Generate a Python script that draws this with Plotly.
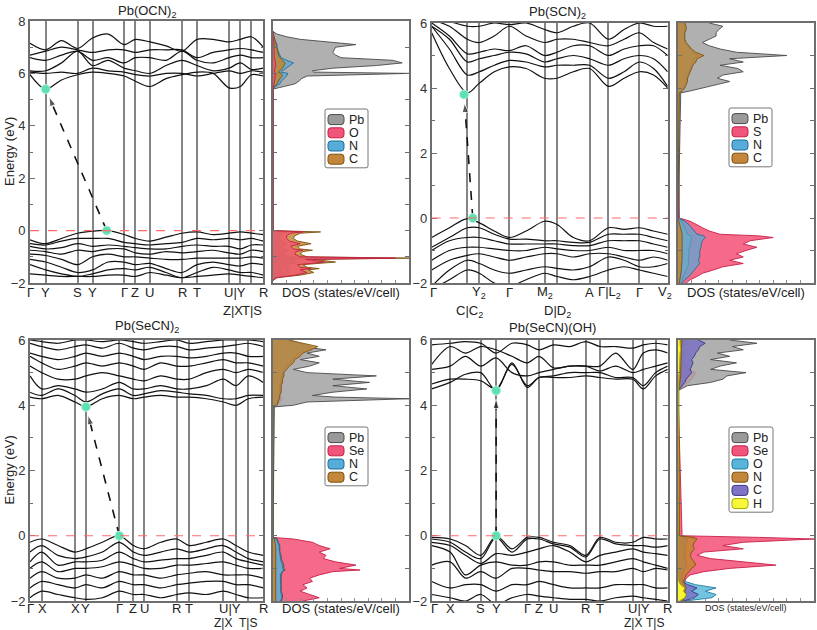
import math
import plotly.graph_objects as go

FONT = "Liberation Sans, Arial, sans-serif"
W, H = 817, 630

# ======================= Panel 1: Pb(OCN)2 =======================
p1_title = "Pb(OCN)<sub>2</sub>"
p1_k = [0, 0.067, 0.135, 0.204, 0.268, 0.335, 0.403, 0.452, 0.514, 0.583, 0.652, 0.716, 0.785, 0.853, 0.902, 0.949, 1.0]
p1_klines = [0.067, 0.204, 0.268, 0.403, 0.452, 0.514, 0.652, 0.716, 0.853, 0.902, 0.949]
p1_labels = ["Γ", "Y", "S", "Y", "Γ", "Z", "U", "R", "T", "U|Y", "R"]
p1_label_k = [0, 0.067, 0.204, 0.268, 0.403, 0.452, 0.514, 0.652, 0.716, 0.879, 1.0]
p1_labels2 = ["Z|X", "T|S"]
p1_label2_k = [0.870, 0.951]
p1_cbands = [
    [5.95, 5.4, 5.75, 5.95, 6.05, 6.0, 5.9, 5.7, 5.5, 5.8, 5.95, 6.05, 6.0, 5.45, 5.5, 5.95, 5.9],
    [6.05, 6.0, 6.05, 6.0, 6.2, 6.1, 6.05, 5.95, 5.9, 6.0, 6.0, 5.9, 6.0, 6.1, 6.0, 6.1, 6.05],
    [6.1, 6.1, 6.4, 6.85, 6.3, 6.5, 6.2, 6.1, 6.0, 6.3, 6.5, 6.3, 6.1, 6.2, 6.4, 6.15, 6.2],
    [6.6, 6.5, 6.7, 6.85, 6.5, 6.6, 6.4, 6.6, 6.6, 6.5, 6.85, 6.5, 6.4, 6.6, 6.7, 6.6, 6.6],
    [6.7, 6.85, 7.0, 6.9, 6.8, 6.9, 6.9, 6.8, 6.9, 6.9, 6.9, 6.6, 6.8, 6.9, 6.95, 6.9, 6.8],
    [7.15, 6.9, 7.25, 6.95, 7.35, 7.5, 7.1, 7.3, 7.2, 7.05, 6.85, 7.3, 7.3, 7.2, 7.3, 7.4, 7.0],
]
p1_vbands = [
    [-0.35, -0.5, -0.3, -0.1, -0.02, 0.0, -0.15, -0.3, -0.4, -0.25, -0.1, -0.05, -0.15, -0.1, -0.05, -0.1, -0.15],
    [-0.5, -0.55, -0.4, -0.3, -0.3, -0.3, -0.45, -0.5, -0.55, -0.5, -0.45, -0.3, -0.35, -0.3, -0.35, -0.3, -0.4],
    [-0.6, -0.7, -0.65, -0.5, -0.6, -0.55, -0.6, -0.65, -0.7, -0.7, -0.6, -0.55, -0.6, -0.6, -0.7, -0.55, -0.55],
    [-0.75, -0.8, -0.9, -0.75, -0.8, -0.7, -0.7, -0.85, -0.9, -0.8, -0.85, -0.8, -0.75, -0.85, -0.9, -0.75, -0.8],
    [-0.9, -0.95, -1.1, -1.3, -1.0, -0.9, -1.0, -1.0, -1.05, -1.1, -1.1, -1.05, -1.05, -1.05, -1.05, -1.0, -1.05],
    [-1.1, -1.2, -1.4, -1.6, -1.5, -1.2, -1.2, -1.3, -1.25, -1.45, -1.6, -1.3, -1.2, -1.3, -1.35, -1.25, -1.3],
    [-1.3, -1.5, -1.65, -1.75, -1.65, -1.5, -1.45, -1.5, -1.4, -1.6, -1.8, -1.6, -1.4, -1.5, -1.6, -1.6, -1.7],
    [-1.65, -1.7, -1.75, -1.75, -1.75, -1.7, -1.7, -1.75, -1.6, -1.7, -1.8, -1.75, -1.7, -1.65, -1.7, -1.75, -1.8],
]
p1_vbm = [0.329, 0.0]
p1_cbm = [0.067, 5.4]
p1_e_vb = [-1.9, -1.8, -1.7, -1.6, -1.5, -1.45, -1.4, -1.3, -1.2, -1.1, -1.05, -1.0, -0.9, -0.8, -0.75, -0.7, -0.6, -0.5, -0.4, -0.3, -0.2, -0.1, -0.05, 0.0]
p1_e_cb = [5.4, 5.5, 5.6, 5.7, 5.8, 5.9, 6.0, 6.05, 6.1, 6.2, 6.3, 6.4, 6.5, 6.6, 6.7, 6.8, 6.9, 7.0, 7.1, 7.2, 7.3, 7.4, 7.5, 7.6]
p1_pb_vb = [0, 0.1, 0.4, 0.6, 0.5, 0.6, 0.5, 0.4, 0.8, 0.6, 1.5, 0.5, 0.4, 0.4, 0.5, 0.4, 0.3, 0.5, 0.3, 0.3, 0.3, 0.4, 0.6, 0]
p1_pb_cb = [0, 0.8, 1.6, 1.9, 2.1, 2.5, 10.0, 3.0, 2.9, 4.4, 7.6, 9.5, 8.8, 5.0, 4.6, 4.4, 4.5, 4.6, 6.1, 4.2, 2.0, 1.0, 0.3, 0]
p1_o_vb = [0, 0.2, 1.6, 2.5, 2.0, 2.8, 2.0, 1.8, 3.8, 2.4, 9.0, 2.0, 1.6, 1.7, 2.2, 1.5, 1.3, 2.0, 1.2, 1.0, 1.0, 1.3, 2.2, 0]
p1_o_cb = [0, 0.05, 0.1, 0.1, 0.15, 0.15, 0.2, 0.1, 0.1, 0.15, 0.2, 0.2, 0.15, 0.1, 0.1, 0.1, 0.1, 0.1, 0.1, 0.05, 0.05, 0, 0, 0]
p1_n_vb = [0, 0.1, 0.8, 1.2, 1.0, 1.3, 1.0, 0.9, 1.8, 1.2, 4.0, 1.0, 0.8, 0.9, 1.1, 0.8, 0.7, 1.0, 0.6, 0.5, 0.5, 0.7, 1.0, 0]
p1_n_cb = [0, 0.2, 0.5, 0.6, 0.8, 1.0, 1.1, 0.6, 0.7, 1.0, 1.2, 1.5, 1.0, 0.6, 0.5, 0.4, 0.35, 0.3, 0.3, 0.2, 0.1, 0.05, 0, 0]
p1_c_vb = [0, 0.3, 2.0, 3.0, 2.6, 3.4, 2.5, 2.2, 4.6, 3.0, 10.0, 2.5, 2.0, 2.2, 2.9, 2.0, 1.8, 2.8, 1.8, 1.5, 1.6, 2.0, 3.5, 0]
p1_c_cb = [0, 0.1, 0.3, 0.4, 0.5, 0.7, 0.6, 0.4, 0.5, 0.7, 0.8, 0.9, 0.7, 0.5, 0.4, 0.35, 0.3, 0.3, 0.25, 0.2, 0.15, 0.1, 0.05, 0]

# ======================= Panel 2: Pb(SCN)2 =======================
p2_title = "Pb(SCN)<sub>2</sub>"
p2_k = [0, 0.075, 0.151, 0.202, 0.265, 0.329, 0.40, 0.478, 0.531, 0.60, 0.669, 0.749, 0.815, 0.880, 0.94, 1.0]
p2_klines = [0.151, 0.202, 0.329, 0.478, 0.531, 0.669, 0.749, 0.880]
p2_labels = ["Γ", "Y<sub>2</sub>", "Γ", "M<sub>2</sub>", "A", "Γ|L<sub>2</sub>", "Γ", "V<sub>2</sub>"]
p2_label_k = [0.007, 0.202, 0.329, 0.478, 0.669, 0.755, 0.880, 0.99]
p2_labels2 = ["C|C<sub>2</sub>", "D|D<sub>2</sub>"]
p2_label2_k = [0.16, 0.531]
p2_cbands = [
    [5.7, 4.6, 3.85, 4.15, 4.5, 4.65, 4.6, 4.3, 4.3, 4.5, 4.6, 4.05, 4.3, 4.5, 4.4, 4.0],
    [5.9, 5.2, 4.4, 4.5, 4.7, 4.85, 4.8, 4.65, 4.7, 4.7, 4.7, 4.3, 4.5, 4.8, 4.6, 4.05],
    [5.9, 5.5, 4.8, 4.9, 5.0, 5.1, 5.05, 4.8, 4.9, 5.0, 4.9, 4.7, 4.9, 5.0, 4.9, 4.5],
    [6.0, 5.6, 5.05, 5.1, 5.2, 5.15, 5.3, 5.0, 5.1, 5.3, 5.3, 5.0, 5.2, 5.3, 5.3, 5.0],
    [6.1, 5.9, 5.5, 5.4, 5.6, 5.9, 5.6, 5.4, 5.5, 5.5, 5.4, 5.3, 5.5, 5.7, 5.4, 5.2],
    [6.2, 6.05, 5.9, 5.9, 6.0, 5.95, 6.0, 5.8, 5.7, 5.9, 6.0, 5.5, 5.8, 6.0, 5.9, 5.9],
]
p2_vbands = [
    [-0.6, -0.3, -0.02, -0.15, -0.4, -0.6, -0.4, -0.1, -0.2, -0.6, -0.7, -0.3, -0.35, -0.3, -0.4, -0.5],
    [-0.9, -0.6, -0.3, -0.3, -0.5, -0.65, -0.65, -0.7, -0.7, -0.75, -0.75, -0.5, -0.5, -0.5, -0.6, -0.7],
    [-1.0, -0.7, -0.6, -0.6, -0.7, -0.8, -0.8, -0.8, -0.8, -0.85, -0.85, -0.7, -0.7, -0.7, -0.8, -0.9],
    [-1.3, -1.0, -0.9, -0.9, -0.95, -1.0, -1.0, -0.9, -0.95, -1.0, -1.0, -0.9, -1.0, -1.0, -1.0, -1.1],
    [-1.6, -1.3, -1.15, -1.1, -1.2, -1.3, -1.2, -1.1, -1.1, -1.2, -1.1, -1.1, -1.2, -1.3, -1.2, -1.3],
    [-2.1, -1.6, -1.3, -1.4, -1.6, -1.7, -1.6, -1.5, -1.55, -1.6, -1.5, -1.2, -1.3, -1.5, -1.5, -1.4],
    [-2.2, -1.9, -1.6, -1.7, -2.0, -2.1, -1.9, -1.7, -1.8, -1.9, -1.8, -1.6, -1.5, -1.6, -1.7, -1.8],
]
p2_vbm = [0.174, 0.0]
p2_cbm = [0.137, 3.8]
p2_e_vb = [-2.0, -1.9, -1.8, -1.7, -1.6, -1.5, -1.4, -1.3, -1.2, -1.1, -1.0, -0.9, -0.8, -0.7, -0.6, -0.55, -0.5, -0.4, -0.3, -0.2, -0.1, 0.0]
p2_e_cb = [3.85, 3.9, 4.0, 4.1, 4.2, 4.3, 4.4, 4.5, 4.6, 4.7, 4.8, 4.9, 5.0, 5.1, 5.2, 5.3, 5.4, 5.5, 5.6, 5.7, 5.8, 5.9, 6.0]
p2_s_vb = [0.6, 0.9, 1.4, 1.8, 2.6, 3.3, 4.8, 3.8, 4.8, 4.3, 5.0, 5.8, 4.8, 5.3, 7.0, 6.0, 3.1, 2.3, 1.8, 1.4, 0.9, 0.1]
p2_s_cb = [0, 0.1, 0.2, 0.3, 0.3, 0.3, 0.35, 0.4, 0.4, 0.45, 0.5, 0.5, 0.6, 0.5, 0.4, 0.35, 0.3, 0.3, 0.3, 0.3, 0.35, 0.35, 0.3]
p2_pb_vb = [0.2, 0.3, 0.4, 0.5, 0.6, 0.7, 0.8, 0.75, 0.8, 0.8, 0.8, 0.85, 0.85, 0.9, 1.0, 0.95, 0.7, 0.6, 0.5, 0.4, 0.25, 0.02]
p2_pb_cb = [0.2, 0.8, 1.8, 2.8, 3.8, 2.9, 3.3, 4.8, 4.4, 3.1, 4.8, 3.8, 8.0, 4.3, 3.1, 2.3, 1.8, 2.3, 2.8, 2.8, 3.0, 3.3, 2.3]
p2_n_vb = [0.3, 0.5, 0.8, 1.0, 1.2, 1.4, 1.6, 1.5, 1.6, 1.6, 1.6, 1.7, 1.7, 1.8, 2.0, 1.9, 1.4, 1.2, 1.0, 0.8, 0.5, 0.05]
p2_n_cb = [0.05, 0.2, 0.4, 0.5, 0.6, 0.6, 0.7, 0.8, 0.9, 1.0, 1.1, 1.2, 1.5, 1.1, 0.9, 0.7, 0.5, 0.45, 0.45, 0.45, 0.5, 0.5, 0.4]
p2_c_vb = [0.1, 0.15, 0.2, 0.2, 0.25, 0.25, 0.3, 0.3, 0.3, 0.3, 0.3, 0.3, 0.3, 0.35, 0.35, 0.35, 0.3, 0.25, 0.2, 0.15, 0.1, 0]
p2_c_cb = [0.1, 0.3, 0.5, 0.6, 0.7, 0.7, 0.8, 0.9, 1.0, 1.1, 1.3, 1.4, 1.9, 1.3, 1.0, 0.8, 0.6, 0.5, 0.5, 0.5, 0.6, 0.6, 0.5]

# ======================= Panel 3: Pb(SeCN)2 =======================
p3_title = "Pb(SeCN)<sub>2</sub>"
p3_k = [0, 0.05, 0.12, 0.193, 0.240, 0.31, 0.383, 0.443, 0.489, 0.56, 0.629, 0.683, 0.756, 0.829, 0.883, 0.936, 1.0]
p3_klines = [0.05, 0.193, 0.240, 0.383, 0.443, 0.489, 0.629, 0.683, 0.829, 0.883, 0.936]
p3_labels = ["Γ", "X", "X", "Y", "Γ", "Z", "U", "R", "T", "U|Y", "R"]
p3_label_k = [0.0, 0.052, 0.193, 0.240, 0.383, 0.443, 0.489, 0.629, 0.683, 0.856, 1.0]
p3_labels2 = ["Z|X", "T|S"]
p3_label2_k = [0.826, 0.936]
p3_cbands = [
    [4.25, 4.2, 4.3, 4.1, 3.95, 4.2, 4.3, 4.2, 4.25, 4.3, 4.25, 4.25, 4.2, 4.1, 4.0, 4.2, 4.25],
    [4.4, 4.3, 4.5, 4.3, 4.1, 4.35, 4.5, 4.3, 4.35, 4.45, 4.4, 4.35, 4.3, 4.2, 4.2, 4.3, 4.3],
    [4.9, 4.5, 4.6, 4.5, 4.4, 4.5, 4.7, 4.5, 4.5, 4.6, 4.5, 4.5, 4.6, 4.8, 4.6, 4.9, 4.7],
    [5.2, 5.0, 4.8, 4.8, 4.9, 5.0, 4.9, 4.8, 4.75, 4.9, 4.8, 4.8, 5.0, 5.1, 5.0, 5.1, 5.0],
    [5.5, 5.3, 5.1, 5.2, 5.3, 5.2, 5.3, 5.2, 5.1, 5.3, 5.2, 5.2, 5.3, 5.4, 5.3, 5.3, 5.2],
    [5.6, 5.5, 5.4, 5.5, 5.6, 5.5, 5.6, 5.5, 5.4, 5.5, 5.5, 5.45, 5.5, 5.6, 5.6, 5.5, 5.5],
    [5.9, 5.8, 5.7, 5.8, 5.85, 5.75, 5.9, 5.75, 5.7, 5.8, 5.8, 5.7, 5.75, 5.8, 5.85, 5.9, 5.8],
    [6.0, 5.95, 5.9, 6.0, 6.0, 5.95, 6.0, 5.95, 5.9, 5.95, 6.0, 5.9, 5.95, 6.0, 6.0, 6.0, 5.95],
]
p3_vbands = [
    [-0.2, -0.1, -0.3, -0.5, -0.4, -0.2, 0.0, -0.3, -0.4, -0.2, -0.1, -0.3, -0.2, -0.1, -0.3, -0.5, -0.6],
    [-0.5, -0.3, -0.6, -0.7, -0.65, -0.5, -0.2, -0.5, -0.6, -0.5, -0.4, -0.5, -0.4, -0.3, -0.5, -0.7, -0.8],
    [-0.8, -0.5, -0.9, -0.8, -0.8, -0.75, -0.5, -0.7, -0.8, -0.75, -0.7, -0.7, -0.6, -0.5, -0.7, -0.8, -0.9],
    [-1.0, -0.8, -1.1, -1.0, -1.0, -0.95, -0.8, -0.9, -1.0, -1.0, -0.9, -0.9, -0.85, -0.8, -0.9, -1.0, -1.0],
    [-1.3, -1.1, -1.3, -1.3, -1.2, -1.3, -1.1, -1.2, -1.2, -1.3, -1.2, -1.15, -1.1, -1.2, -1.2, -1.2, -1.3],
    [-1.6, -1.4, -1.5, -1.6, -1.5, -1.6, -1.4, -1.5, -1.5, -1.6, -1.5, -1.45, -1.4, -1.4, -1.5, -1.5, -1.6],
    [-1.9, -1.7, -1.8, -1.9, -1.95, -1.9, -1.7, -1.8, -1.8, -1.9, -1.8, -1.75, -1.8, -1.7, -1.8, -1.9, -1.9],
]
p3_vbm = [0.383, 0.0]
p3_cbm = [0.240, 3.95]
p3_e_vb = [-2.0, -1.9, -1.8, -1.7, -1.6, -1.5, -1.4, -1.3, -1.2, -1.1, -1.05, -1.0, -0.9, -0.8, -0.7, -0.6, -0.5, -0.4, -0.3, -0.2, -0.1, -0.05]
p3_e_cb = [3.95, 4.0, 4.1, 4.2, 4.25, 4.3, 4.4, 4.5, 4.6, 4.7, 4.8, 4.9, 5.0, 5.1, 5.2, 5.3, 5.4, 5.5, 5.6, 5.7, 5.8, 5.9, 6.0]
p3_se_vb = [2.2, 3.4, 2.7, 2.0, 2.5, 2.2, 2.9, 2.7, 3.4, 4.4, 6.4, 4.9, 6.1, 4.6, 3.7, 3.9, 3.4, 4.2, 3.4, 2.9, 1.5, 0.0]
p3_se_cb = [0, 0.3, 0.5, 0.7, 0.6, 0.5, 0.6, 0.6, 0.6, 0.7, 0.6, 0.7, 0.6, 0.5, 0.5, 0.5, 0.5, 0.5, 0.6, 0.7, 1.0, 0.6, 0.4]
p3_pb_vb = [0.6, 0.7, 0.7, 0.6, 0.6, 0.6, 0.6, 0.6, 0.6, 0.7, 0.9, 0.8, 0.8, 0.7, 0.6, 0.6, 0.5, 0.5, 0.5, 0.4, 0.3, 0.0]
p3_pb_cb = [0.1, 1.5, 2.5, 10.0, 4.5, 2.9, 4.4, 6.9, 4.4, 7.1, 4.4, 7.6, 2.5, 1.5, 2.7, 3.4, 2.0, 3.4, 2.5, 3.9, 2.0, 1.5, 1.3]
p3_n_vb = [0.55, 0.65, 0.6, 0.55, 0.55, 0.55, 0.55, 0.55, 0.55, 0.65, 0.8, 0.7, 0.7, 0.6, 0.55, 0.55, 0.45, 0.45, 0.45, 0.35, 0.25, 0.0]
p3_n_cb = [0, 0.25, 0.35, 0.45, 0.45, 0.45, 0.5, 0.5, 0.5, 0.6, 0.6, 0.7, 0.7, 0.85, 1.0, 1.3, 1.4, 1.7, 1.9, 2.4, 2.8, 1.9, 1.0]
p3_c_vb = [0.2, 0.2, 0.2, 0.2, 0.2, 0.2, 0.2, 0.2, 0.2, 0.2, 0.25, 0.25, 0.25, 0.2, 0.2, 0.2, 0.2, 0.2, 0.2, 0.15, 0.1, 0.0]
p3_c_cb = [0, 0.3, 0.4, 0.5, 0.5, 0.5, 0.6, 0.6, 0.6, 0.7, 0.7, 0.8, 0.8, 1.0, 1.2, 1.5, 1.6, 2.0, 2.2, 2.8, 3.3, 2.2, 1.2]

# ======================= Panel 4: Pb(SeCN)(OH) =======================
p4_title = "Pb(SeCN)(OH)"
p4_k = [0, 0.078, 0.143, 0.208, 0.273, 0.34, 0.405, 0.455, 0.516, 0.585, 0.653, 0.713, 0.78, 0.852, 0.897, 0.949, 1.0]
p4_klines = [0.078, 0.208, 0.273, 0.405, 0.455, 0.516, 0.653, 0.713, 0.852, 0.897, 0.949]
p4_labels = ["Γ", "X", "S", "Y", "Γ", "Z", "U", "R", "T", "U|Y", "R"]
p4_label_k = [0.01, 0.078, 0.208, 0.273, 0.405, 0.455, 0.516, 0.653, 0.713, 0.877, 1.0]
p4_labels2 = ["Z|X", "T|S"]
p4_label2_k = [0.852, 0.946]
p4_cbands = [
    [4.5, 4.7, 4.95, 5.0, 4.45, 5.3, 4.55, 4.85, 4.85, 4.85, 4.9, 4.85, 4.8, 4.8, 4.5, 4.9, 5.1],
    [4.65, 4.8, 4.8, 4.75, 4.5, 5.25, 4.6, 4.85, 4.9, 5.0, 5.0, 5.0, 4.85, 4.85, 4.6, 5.0, 5.2],
    [5.1, 5.2, 5.5, 5.2, 5.45, 5.0, 4.9, 5.0, 5.1, 5.2, 5.2, 5.05, 5.2, 5.0, 5.1, 5.2, 5.3],
    [5.25, 5.8, 5.6, 5.8, 5.7, 5.5, 5.3, 5.5, 5.15, 5.2, 5.2, 5.2, 5.6, 5.1, 5.6, 5.7, 5.6],
    [5.85, 5.9, 5.95, 5.9, 5.6, 5.9, 5.85, 5.7, 5.85, 5.8, 5.95, 5.8, 5.8, 5.75, 5.85, 5.9, 5.85],
]
p4_vbands = [
    [-0.05, -0.1, -0.3, -0.6, 0.0, -0.4, -0.05, -0.05, -0.2, -0.3, -0.6, -0.05, -0.2, -0.2, -0.05, -0.1, -0.1],
    [-0.1, -0.2, -0.5, -0.7, -0.05, -0.5, -0.1, -0.1, -0.25, -0.35, -0.65, -0.1, -0.25, -0.3, -0.3, -0.35, -0.3],
    [-0.2, -0.3, -0.6, -0.85, -0.55, -0.6, -0.5, -0.4, -0.3, -0.5, -0.8, -0.6, -0.5, -0.4, -0.5, -0.55, -0.6],
    [-0.3, -0.5, -1.2, -0.9, -0.8, -0.9, -0.9, -0.8, -0.8, -0.9, -0.9, -0.9, -0.8, -0.7, -0.8, -0.9, -1.0],
    [-0.9, -0.8, -1.3, -1.1, -1.3, -1.0, -1.0, -1.05, -1.1, -1.1, -1.15, -1.1, -1.1, -1.0, -1.1, -1.0, -1.05],
    [-1.4, -1.6, -1.5, -1.5, -1.7, -1.5, -1.5, -1.4, -1.5, -1.6, -1.6, -1.6, -1.5, -1.5, -1.5, -1.6, -1.6],
    [-1.8, -1.9, -2.0, -1.8, -2.1, -1.9, -1.8, -1.85, -1.9, -1.95, -1.95, -2.0, -1.9, -1.85, -1.9, -1.95, -2.0],
]
p4_vbm = [0.273, 0.0]
p4_cbm = [0.273, 4.45]
p4_e_vb = [-2.0, -1.9, -1.8, -1.7, -1.6, -1.5, -1.4, -1.3, -1.2, -1.1, -1.0, -0.9, -0.8, -0.7, -0.6, -0.5, -0.4, -0.3, -0.2, -0.1, -0.05, 0.0]
p4_e_cb = [4.45, 4.5, 4.6, 4.7, 4.8, 4.9, 5.0, 5.1, 5.2, 5.3, 5.4, 5.5, 5.6, 5.7, 5.8, 5.9, 6.0]
p4_se_vb = [0.2, 0.3, 0.3, 0.4, 0.4, 0.4, 0.5, 0.6, 0.9, 1.9, 3.8, 7.2, 4.8, 2.4, 1.4, 1.9, 4.8, 3.3, 4.8, 10.0, 6.0, 0.3]
p4_se_cb = [0, 0.15, 0.4, 0.8, 1.0, 1.2, 1.3, 0.8, 0.6, 0.6, 0.5, 0.5, 0.5, 0.5, 0.5, 0.6, 0.5]
p4_pb_vb = [0.2, 0.3, 0.3, 0.3, 0.3, 0.2, 0.2, 0.2, 0.3, 0.4, 0.5, 0.6, 0.6, 0.5, 0.5, 0.5, 0.6, 0.5, 0.6, 0.7, 0.5, 0.05]
p4_pb_cb = [0, 0.2, 0.7, 2.4, 3.3, 3.6, 5.0, 2.4, 3.1, 4.3, 2.4, 3.8, 2.9, 4.8, 4.0, 5.8, 3.8]
p4_o_vb = [0.5, 2.5, 2.8, 2.0, 2.8, 1.3, 0.5, 0.2, 0.1, 0.1, 0.1, 0.1, 0.1, 0.1, 0.1, 0.1, 0.1, 0.1, 0.1, 0.1, 0.1, 0.0]
p4_o_cb = [0, 0.05, 0.1, 0.1, 0.1, 0.1, 0.1, 0.1, 0.1, 0.1, 0.1, 0.1, 0.1, 0.1, 0.1, 0.1, 0.1]
p4_n_vb = [0.3, 0.5, 0.6, 0.5, 0.6, 0.5, 0.4, 0.5, 0.6, 0.8, 1.0, 1.3, 1.2, 1.0, 0.9, 1.0, 1.2, 1.1, 1.2, 1.4, 1.1, 0.1]
p4_n_cb = [0, 0.05, 0.1, 0.15, 0.15, 0.2, 0.2, 0.2, 0.2, 0.2, 0.2, 0.2, 0.2, 0.25, 0.25, 0.3, 0.25]
p4_c_vb = [0.4, 1.2, 1.5, 1.0, 1.4, 0.7, 0.3, 0.3, 0.3, 0.4, 0.5, 0.6, 0.6, 0.5, 0.5, 0.5, 0.6, 0.5, 0.6, 0.7, 0.5, 0.05]
p4_c_cb = [0, 0.1, 0.3, 0.5, 0.6, 0.8, 1.0, 0.9, 1.0, 1.1, 1.0, 1.2, 1.3, 1.5, 1.6, 2.0, 1.5]
p4_h_vb = [0.1, 0.5, 0.6, 0.4, 0.5, 0.2, 0.05, 0, 0, 0, 0, 0, 0, 0, 0, 0, 0, 0, 0, 0, 0, 0]
p4_h_cb = [0, 0.02, 0.05, 0.05, 0.05, 0.05, 0.1, 0.1, 0.1, 0.1, 0.1, 0.15, 0.15, 0.2, 0.15, 0.15, 0.15]

# ======================= Styles =======================
# (line colour, fill colour, legend swatch fill)
STY = {
    "Pb": ("#4a4a4a", "rgba(165,165,165,0.88)", "#9a9a9a"),
    "O": ("#c81e48", "rgba(242,80,115,0.72)", "#f0557c"),
    "S": ("#c81e48", "rgba(242,80,115,0.85)", "#f0557c"),
    "Se": ("#c81e48", "rgba(242,80,115,0.85)", "#f0557c"),
    "N": ("#1e6e9e", "rgba(85,170,215,0.72)", "#58acd8"),
    "C": ("#7a5210", "rgba(196,132,48,0.82)", "#c4863a"),
    "O4": ("#1e7e9e", "rgba(80,180,215,0.8)", "#58b4d8"),
    "N4": ("#7a5210", "rgba(196,132,48,0.85)", "#c4863a"),
    "C4": ("#3b3585", "rgba(120,110,195,0.8)", "#7d74c4"),
    "H4": ("#a8a800", "rgba(250,250,50,0.95)", "#f8f83a"),
}

panels = [
    dict(title=p1_title, k=p1_k, klines=p1_klines, labels=p1_labels, label_k=p1_label_k,
         labels2=p1_labels2, label2_k=p1_label2_k, cb=p1_cbands, vb=p1_vbands, vbm=p1_vbm, cbm=p1_cbm,
         yr=[-2, 8], bx=[30, 263.3], dx=[273, 409], yp=[21, 283], ev=p1_e_vb, ec=p1_e_cb,
         dos=[("Pb", "Pb", p1_pb_vb, p1_pb_cb, 1), ("N", "N", p1_n_vb, p1_n_cb, 3),
              ("C", "C", p1_c_vb, p1_c_cb, 4), ("O", "O", p1_o_vb, p1_o_cb, 2)],
         leg=[325, 109, 368], lab_y=[292, 310], lab2_size=13, dos_font=13, ytitle=True, title_xy=[147, 11]),
    dict(title=p2_title, k=p2_k, klines=p2_klines, labels=p2_labels, label_k=p2_label_k,
         labels2=p2_labels2, label2_k=p2_label2_k, cb=p2_cbands, vb=p2_vbands, vbm=p2_vbm, cbm=p2_cbm,
         yr=[-2, 6], bx=[431.7, 667.7], dx=[678, 814], yp=[23, 283], ev=p2_e_vb, ec=p2_e_cb,
         dos=[("S", "S", p2_s_vb, p2_s_cb, 2), ("Pb", "Pb", p2_pb_vb, p2_pb_cb, 1),
              ("N", "N", p2_n_vb, p2_n_cb, 3), ("C", "C", p2_c_vb, p2_c_cb, 4)],
         leg=[729, 108, 772], lab_y=[292, 311], lab2_size=13, dos_font=13, ytitle=False, title_xy=[557, 12]),
    dict(title=p3_title, k=p3_k, klines=p3_klines, labels=p3_labels, label_k=p3_label_k,
         labels2=p3_labels2, label2_k=p3_label2_k, cb=p3_cbands, vb=p3_vbands, vbm=p3_vbm, cbm=p3_cbm,
         yr=[-2, 6], bx=[30, 263.3], dx=[273, 409], yp=[340, 601], ev=p3_e_vb, ec=p3_e_cb,
         dos=[("Se", "Se", p3_se_vb, p3_se_cb, 2), ("Pb", "Pb", p3_pb_vb, p3_pb_cb, 1),
              ("N", "N", p3_n_vb, p3_n_cb, 3), ("C", "C", p3_c_vb, p3_c_cb, 4)],
         leg=[325, 427, 368], lab_y=[608, 623], lab2_size=12, dos_font=13, ytitle=True, title_xy=[147, 326]),
    dict(title=p4_title, k=p4_k, klines=p4_klines, labels=p4_labels, label_k=p4_label_k,
         labels2=p4_labels2, label2_k=p4_label2_k, cb=p4_cbands, vb=p4_vbands, vbm=p4_vbm, cbm=p4_cbm,
         yr=[-2, 6], bx=[431.7, 667.7], dx=[678, 814], yp=[340, 601], ev=p4_e_vb, ec=p4_e_cb,
         dos=[("Se", "Se", p4_se_vb, p4_se_cb, 2), ("Pb", "Pb", p4_pb_vb, p4_pb_cb, 1),
              ("O", "O4", p4_o_vb, p4_o_cb, 3), ("C", "C4", p4_c_vb, p4_c_cb, 5),
              ("N", "N4", p4_n_vb, p4_n_cb, 4), ("H", "H4", p4_h_vb, p4_h_cb, 6)],
         leg=[729, 427, 773], lab_y=[608, 623], lab2_size=12, dos_font=9, ytitle=False, title_xy=[552, 327]),
]


def fx(p):
    return p / W


def fy(p):
    return 1 - p / H


def rrect(x0, y0, x1, y1, r):
    """Rounded rectangle path in paper coords from pixel corners."""
    P = lambda x, y: f"{fx(x):.5f},{fy(y):.5f}"
    return (f"M {P(x0 + r, y0)} L {P(x1 - r, y0)} Q {P(x1, y0)} {P(x1, y0 + r)} "
            f"L {P(x1, y1 - r)} Q {P(x1, y1)} {P(x1 - r, y1)} L {P(x0 + r, y1)} "
            f"Q {P(x0, y1)} {P(x0, y1 - r)} L {P(x0, y0 + r)} Q {P(x0, y0)} {P(x0 + r, y0)} Z")


fig = go.Figure()
layout = dict(width=W, height=H, margin=dict(l=0, r=0, t=0, b=0),
              paper_bgcolor="white", plot_bgcolor="white",
              font=dict(family=FONT, size=13, color="#222"), showlegend=False)
annotations = []
shapes = []
FRAME = "#6e6e6e"

for i, p in enumerate(panels):
    bxn = 2 * i + 1
    dxn = 2 * i + 2
    bx_ref = "x" if bxn == 1 else f"x{bxn}"
    by_ref = "y" if bxn == 1 else f"y{bxn}"
    dx_ref = f"x{dxn}"
    dy_ref = f"y{dxn}"
    ydom = [fy(p["yp"][1]), fy(p["yp"][0])]

    layout["xaxis" if bxn == 1 else f"xaxis{bxn}"] = dict(
        domain=[fx(p["bx"][0]), fx(p["bx"][1])], range=[0, 1], tickvals=p["klines"],
        showticklabels=False, ticks="", showgrid=True, gridcolor="#858585", gridwidth=1.5,
        showline=True, mirror=True, linecolor=FRAME, linewidth=1.6, zeroline=False,
        anchor=by_ref)
    layout["yaxis" if bxn == 1 else f"yaxis{bxn}"] = dict(
        domain=ydom, range=p["yr"], dtick=2, tick0=0, ticks="inside", ticklen=5,
        tickcolor=FRAME, showgrid=False, zeroline=False, showline=True, mirror="ticks",
        linecolor=FRAME, linewidth=1.6, tickfont=dict(size=13, color="#333"),
        minor=dict(ticks="inside", dtick=1, ticklen=3, tickcolor=FRAME),
        anchor=bx_ref, automargin=False)
    layout[f"xaxis{dxn}"] = dict(
        domain=[fx(p["dx"][0]), fx(p["dx"][1])], range=[0, 10], dtick=1, ticks="inside",
        ticklen=3, tickcolor="#8a8aa0", showticklabels=False, showgrid=False, zeroline=False,
        showline=True, mirror=True, linecolor=FRAME, linewidth=1.6, anchor=dy_ref)
    layout[f"yaxis{dxn}"] = dict(
        domain=ydom, range=p["yr"], dtick=1, ticks="inside", ticklen=4, tickcolor=FRAME,
        showticklabels=False, showgrid=False, zeroline=False, showline=True, mirror="ticks",
        linecolor=FRAME, linewidth=1.6, anchor=dx_ref)

    # bands (one trace, gaps between bands)
    xs, ys = [], []
    for band in p["vb"] + p["cb"]:
        xs += list(p["k"]) + [None]
        ys += list(band) + [None]
    fig.add_trace(go.Scatter(x=xs, y=ys, mode="lines",
                             line=dict(color="#111", width=1.2, shape="spline", smoothing=0.9),
                             xaxis=bx_ref, yaxis=by_ref, showlegend=False, hoverinfo="skip"))

    # Fermi level dashed line
    shapes.append(dict(type="line", xref=f"{bx_ref} domain", yref=by_ref, x0=0, x1=1, y0=0, y1=0,
                       line=dict(color="#ff6a6a", width=1.1, dash="dash")))

    # transition arrow: dashed shaft + arrow-head marker just short of the CBM dot
    kpx = p["bx"][1] - p["bx"][0]
    epx = (p["yp"][1] - p["yp"][0]) / (p["yr"][1] - p["yr"][0])
    dxp = (p["vbm"][0] - p["cbm"][0]) * kpx
    dyp = (p["vbm"][1] - p["cbm"][1]) * epx
    frac = 8.5 / math.hypot(dxp, dyp)
    tip_k = p["cbm"][0] + frac * (p["vbm"][0] - p["cbm"][0])
    tip_e = p["cbm"][1] + frac * (p["vbm"][1] - p["cbm"][1])
    fig.add_trace(go.Scatter(x=[p["vbm"][0], tip_k], y=[p["vbm"][1], tip_e], mode="lines+markers",
                             line=dict(color="#111", width=1.6, dash="dash"),
                             marker=dict(symbol="arrow", angleref="previous", size=[0, 10], color="#111"),
                             xaxis=bx_ref, yaxis=by_ref, showlegend=False, hoverinfo="skip"))
    fig.add_trace(go.Scatter(x=[p["vbm"][0], p["cbm"][0]], y=[p["vbm"][1], p["cbm"][1]], mode="markers",
                             marker=dict(color="#5ee0b0", size=9, line=dict(color="#b8f5de", width=1)),
                             xaxis=bx_ref, yaxis=by_ref, showlegend=False, hoverinfo="skip"))

    # DOS fills
    for name, skey, vbv, cbv, rank in p["dos"]:
        lc, fc, _ = STY[skey]
        fig.add_trace(go.Scatter(x=list(vbv) + list(cbv), y=list(p["ev"]) + list(p["ec"]), mode="lines",
                                 fill="tozerox", fillcolor=fc, line=dict(color=lc, width=0.9),
                                 name=name, xaxis=dx_ref, yaxis=dy_ref, hoverinfo="skip",
                                 showlegend=False))

    # legend box (drawn)
    entries = sorted(p["dos"], key=lambda d: d[4])
    lx0, ly0, lx1 = p["leg"]
    step = 13.2
    ly1 = ly0 + 4 + step * len(entries) + 2
    shapes.append(dict(type="path", xref="paper", yref="paper", path=rrect(lx0, ly0, lx1, ly1, 2),
                       fillcolor="white", line=dict(color="#777", width=1)))
    for j, (name, skey, _, _, _) in enumerate(entries):
        lc, _, sw = STY[skey]
        cy = ly0 + 4 + step * (j + 0.5)
        shapes.append(dict(type="path", xref="paper", yref="paper",
                           path=rrect(lx0 + 3, cy - 5, lx0 + 19, cy + 5, 3),
                           fillcolor=sw, line=dict(color=lc, width=1)))
        annotations.append(dict(x=fx(lx0 + 23), y=fy(cy), xref="paper", yref="paper", text=name,
                                xanchor="left", yanchor="middle", showarrow=False, height=12,
                                borderpad=0, font=dict(size=12.5, color="#222")))

    # titles
    annotations.append(dict(x=fx(p["title_xy"][0]), y=fy(p["title_xy"][1]), xref="paper", yref="paper",
                            text=p["title"], showarrow=False, xanchor="center", yanchor="middle",
                            font=dict(size=13, color="#222")))
    # k labels
    for lab, kk in zip(p["labels"], p["label_k"]):
        annotations.append(dict(x=kk, y=fy(p["lab_y"][0]), xref=bx_ref, yref="paper", text=lab,
                                showarrow=False, font=dict(size=13, color="#222"),
                                xanchor="center", yanchor="middle"))
    for lab, kk in zip(p["labels2"], p["label2_k"]):
        annotations.append(dict(x=kk, y=fy(p["lab_y"][1]), xref=bx_ref, yref="paper", text=lab,
                                showarrow=False, font=dict(size=p["lab2_size"], color="#222"),
                                xanchor="center", yanchor="middle"))
    # DOS axis title
    annotations.append(dict(x=fx((p["dx"][0] + p["dx"][1]) / 2), y=fy(p["lab_y"][0]), xref="paper",
                            yref="paper", text="DOS (states/eV/cell)", showarrow=False,
                            xanchor="center", yanchor="middle",
                            font=dict(size=p["dos_font"], color="#222")))
    if p["ytitle"]:
        annotations.append(dict(x=fx(9), y=fy((p["yp"][0] + p["yp"][1]) / 2), xref="paper", yref="paper",
                                text="Energy (eV)", textangle=-90, showarrow=False,
                                xanchor="center", yanchor="middle",
                                font=dict(size=13, color="#222")))

layout["annotations"] = annotations
layout["shapes"] = shapes
fig.update_layout(**layout)
fig.write_html("out.html", config={"displayModeBar": False},
               post_script="document.body.style.margin='0px';document.body.style.overflow='hidden';")
